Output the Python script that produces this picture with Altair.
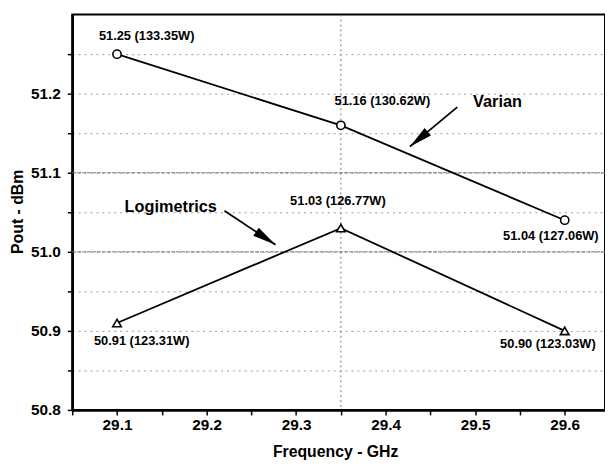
import math
import altair as alt
import pandas as pd

# ---------------- data ----------------
freq = [29.1, 29.35, 29.6]
varian_dbm = [51.25, 51.16, 51.04]
varian_labels = ["51.25 (133.35W)", "51.16 (130.62W)", "51.04 (127.06W)"]
logi_dbm = [50.91, 51.03, 50.90]
logi_labels = ["50.91 (123.31W)", "51.03 (126.77W)", "50.90 (123.03W)"]

x_ticks = [29.05, 29.1, 29.15, 29.2, 29.25, 29.3, 29.35, 29.4, 29.45, 29.5, 29.55, 29.6]
y_ticks = [50.8, 50.85, 50.9, 50.95, 51.0, 51.05, 51.1, 51.15, 51.2, 51.25]
x_domain = [29.05, 29.645]
y_domain = [50.8, 51.3]
vgrid = [29.35]
strong_hgrid = [51.0, 51.1]

annot_text = ["Varian", "Logimetrics"]
annot_x = [29.525, 29.16]
annot_y = [51.19, 51.056]
arrow_x = [29.48, 29.22]
arrow_y = [51.183, 51.052]
arrow_x2 = [29.427, 29.277]
arrow_y2 = [51.133, 51.009]

# ---------------- layout / style ----------------
W, H = 539, 400
FONT = "Liberation Sans"
px_x = W / (x_domain[1] - x_domain[0])
px_y = H / (y_domain[1] - y_domain[0])

label_expr = "abs(datum.value*10 - round(datum.value*10)) < 0.001 ? format(datum.value, '.1f') : ''"

xs = alt.Scale(domain=x_domain, nice=False, zero=False)
ys = alt.Scale(domain=y_domain, nice=False, zero=False)

x_axis = alt.Axis(values=x_ticks, labelExpr=label_expr, title="Frequency - GHz",
                  grid=False, domainColor="black", domainWidth=2.5, tickColor="black",
                  tickWidth=1.5, tickSize=5, labelPadding=3, labelFont=FONT, labelFontSize=15.5,
                  labelFontWeight="bold", labelColor="black", titleFont=FONT, titleFontSize=16,
                  titleFontWeight="bold", titleColor="black", titleX=266, titleY=47,
                  titleBaseline="alphabetic", titleAlign="center", labelFlush=False)
y_axis = alt.Axis(values=y_ticks, labelExpr=label_expr, title="Pout - dBm",
                  grid=True, gridColor="#9a9a9a", gridDash=[2, 4], gridWidth=1,
                  domainColor="black", domainWidth=2.5, tickColor="black",
                  tickWidth=1.5, tickSize=5, labelPadding=7, labelFont=FONT, labelFontSize=15.5,
                  labelFontWeight="bold", labelColor="black", titleFont=FONT, titleFontSize=16,
                  titleFontWeight="bold", titleColor="black", titleX=-55, titleY=199,
                  titleAngle=270, titleBaseline="middle", titleAlign="center", labelFlush=False)

X = alt.X("freq:Q", scale=xs, axis=x_axis)
Y = alt.Y("dbm:Q", scale=ys, axis=y_axis)

df_v = pd.DataFrame({"freq": freq, "dbm": varian_dbm, "label": varian_labels})
df_l = pd.DataFrame({"freq": freq, "dbm": logi_dbm, "label": logi_labels})
df_vg = pd.DataFrame({"freq": vgrid})
df_hg = pd.DataFrame({"dbm": strong_hgrid})


def arrow_angle(x1, y1, x2, y2):
    dx = (x2 - x1) * px_x
    dy = -(y2 - y1) * px_y
    return math.degrees(math.atan2(dx, -dy)) % 360


df_ann = pd.DataFrame({"freq": annot_x, "dbm": annot_y, "label": annot_text})
df_arr = pd.DataFrame({"freq": arrow_x, "dbm": arrow_y, "freq2": arrow_x2, "dbm2": arrow_y2})
df_arr["ang"] = [arrow_angle(a, b, c, d) for a, b, c, d in zip(arrow_x, arrow_y, arrow_x2, arrow_y2)]

layers = []

# grid extras
layers.append(alt.Chart(df_hg).mark_rule(color="#7a7a7a", strokeDash=[4, 1], strokeWidth=1).encode(y=Y))
layers.append(alt.Chart(df_vg).mark_rule(color="#7a7a7a", strokeDash=[2, 3], strokeWidth=1).encode(x=X))

# series lines
layers.append(alt.Chart(df_v).mark_line(color="black", strokeWidth=1.8).encode(x=X, y=Y))
layers.append(alt.Chart(df_l).mark_line(color="black", strokeWidth=1.8).encode(x=X, y=Y))

# markers
layers.append(alt.Chart(df_v).mark_point(shape="circle", filled=True, fill="white", stroke="black",
                                         strokeWidth=1.6, size=70, opacity=1).encode(x=X, y=Y))
layers.append(alt.Chart(df_l).mark_point(shape="triangle-up", filled=True, fill="white", stroke="black",
                                         strokeWidth=1.6, size=75, opacity=1).encode(x=X, y=Y))

# point labels with individual offsets
v_off = [(30, -18), (42, -25), (-14, 16)]
l_off = [(25, 18), (-3, -27), (-17, 13)]
for df, offs in ((df_v, v_off), (df_l, l_off)):
    for i, (dx, dy) in enumerate(offs):
        layers.append(
            alt.Chart(df.iloc[[i]]).mark_text(font=FONT, fontSize=13, fontWeight="bold",
                                             color="black", dx=dx, dy=dy, baseline="middle",
                                             align="center").encode(x=X, y=Y, text="label:N"))

# annotations
layers.append(alt.Chart(df_ann).mark_text(font=FONT, fontSize=16.5, fontWeight="bold", color="black",
                                          baseline="middle", align="center").encode(x=X, y=Y, text="label:N"))
layers.append(alt.Chart(df_arr).mark_rule(color="black", strokeWidth=1.8).encode(
    x=X, y=Y, x2="freq2:Q", y2="dbm2:Q"))
layers.append(alt.Chart(df_arr).mark_point(shape="M0,0L-0.42,2L0.42,2Z", filled=True, color="black",
                                           size=560, opacity=1).encode(
    x=alt.X("freq2:Q", scale=xs, axis=x_axis), y=alt.Y("dbm2:Q", scale=ys, axis=y_axis),
    angle=alt.Angle("ang:Q", scale=None)))

chart = alt.layer(*layers).properties(
    width=W, height=H,
    autosize=alt.AutoSizeParams(type="none"),
    padding={"left": 65, "top": 4, "right": 0, "bottom": 54},
    background="white",
).configure_view(stroke="black", strokeWidth=2)

chart.save("out.html", embed_options={"renderer": "svg", "actions": False})
